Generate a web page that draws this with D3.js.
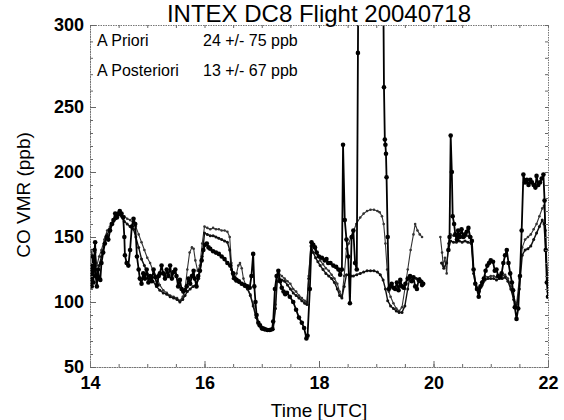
<!DOCTYPE html>
<html>
<head>
<meta charset="utf-8">
<script src="https://cdn.jsdelivr.net/npm/d3@7"></script>
<style>
  body { margin: 0; background: #fff; }
  svg { font-family: "Liberation Sans", Arial, sans-serif; }
</style>
</head>
<body>
<svg id="chart" width="564" height="420" viewBox="0 0 564 420"></svg>
<script>
// time [UTC hours], CO VMR [ppb]; null = no data
const obs = [
  [14.00,118],[14.02,128],[14.03,112],[14.05,135],[14.06,115],[14.08,140],[14.09,146],[14.10,120],
  [14.12,112],[14.14,125],[14.16,118],[14.18,117],[14.20,130],[14.23,138],[14.26,145],[14.29,150],
  [14.32,148],[14.35,155],[14.38,160],[14.41,163],[14.44,168],[14.47,165],[14.50,168],[14.52,170],
  [14.55,168],[14.58,165],[14.60,150],[14.61,136],[14.64,130],[14.67,128],[14.70,140],[14.73,158],
  [14.76,164],[14.79,160],[14.82,135],[14.85,125],[14.87,118],[14.90,114],[14.93,122],[14.96,118],
  [14.99,125],[15.02,115],[15.05,120],[15.08,116],[15.11,125],[15.14,119],[15.17,113],[15.20,120],
  [15.22,122],[15.25,128],[15.28,122],[15.31,118],[15.34,125],[15.37,120],[15.40,128],[15.43,118],
  [15.46,123],[15.49,125],[15.51,120],[15.54,112],[15.57,117],[15.60,110],[15.63,108],[15.66,109],
  [15.69,112],[15.72,118],[15.75,114],[15.78,120],[15.81,124],[15.83,118],[15.86,112],[15.89,120],
  [15.92,124],[15.95,132],[15.98,140],[16.01,144],[16.04,145],[16.07,142],[16.10,141],[16.15,139],
  [16.20,138],[16.25,137],[16.30,135],[16.35,133],[16.40,130],[16.45,128],[16.50,122],[16.53,118],
  [16.56,117],[16.60,116],[16.65,114],[16.70,113],[16.75,112],[16.79,111],[16.82,120],[16.85,137],
  [16.87,112],[16.89,100],[16.91,90],[16.94,84],[16.97,82],[17.00,80],[17.03,79.5],[17.06,79],
  [17.10,78.5],[17.14,78.5],[17.18,79],[17.20,85],[17.23,110],[17.26,120],[17.29,124],[17.32,116],
  [17.35,111],[17.38,108],[17.41,106],[17.44,107],[17.49,104],[17.55,100],[17.60,94],[17.65,88],
  [17.70,84],[17.74,80],[17.78,72],[17.80,74],[17.84,110],[17.87,146],[17.90,144],[17.93,142],
  [17.96,138],[18.00,135],[18.05,134],[18.10,132],[18.13,133],[18.16,130],[18.20,130],[18.25,128],
  [18.30,127],[18.34,125],[18.37,121],[18.40,125],[18.42,221],[18.45,163],[18.48,148],[18.51,135],
  [18.54,99],[18.57,150],[18.60,155],[18.63,130],[18.66,125],[18.68,283],[18.70,420],[19.10,440],
  [19.135,262],[19.15,225],[19.16,221],[19.17,214],[19.18,196],[19.20,150],[19.22,110],[19.24,112],
  [19.27,114],[19.30,111],[19.33,110],[19.36,115],[19.39,109],[19.42,117],[19.45,112],[19.48,111],
  [19.51,114],[19.55,118],[19.59,120],[19.62,116],[19.65,119],[19.68,112],[19.71,110],[19.74,117],
  [19.77,116],[19.80,113],[19.82,114],[19.95,null],
  [20.26,140],[20.28,150],[20.30,228],[20.32,200],[20.335,166],[20.36,160],[20.38,152],[20.41,148],
  [20.43,155],[20.46,150],[20.49,156],[20.52,150],[20.55,152],[20.58,154],[20.61,157],[20.64,150],
  [20.67,147],[20.70,125],[20.73,114],[20.76,110],[20.79,104],[20.82,112],[20.85,115],[20.88,118],
  [20.91,124],[20.94,128],[20.97,130],[21.00,132],[21.04,131],[21.07,124],[21.10,125],[21.13,120],
  [21.16,119],[21.19,122],[21.22,130],[21.25,136],[21.28,140],[21.31,130],[21.34,122],[21.37,115],
  [21.39,109],[21.42,96],[21.45,87],[21.48,95],[21.51,120],[21.54,155],[21.57,198],[21.60,192],
  [21.63,194],[21.66,190],[21.69,194],[21.72,192],[21.75,190],[21.78,188],[21.80,197],[21.83,190],
  [21.86,192],[21.89,195],[21.92,198],[21.94,178],[21.96,140],[21.98,115],[22.00,104]
];

const aPriori = [
  [14.00,125],[14.03,140],[14.06,130],[14.09,138],[14.12,128],[14.16,135],[14.20,140],[14.25,148],
  [14.30,155],[14.35,158],[14.40,162],[14.45,166],[14.50,169],[14.55,168],[14.60,166],[14.65,164],
  [14.70,163],[14.76,161],[14.80,158],[14.85,152],[14.90,146],[14.95,140],[15.00,134],[15.05,130],
  [15.10,124],[15.16,120],[15.22,113],[15.28,109],[15.34,107],[15.40,105],[15.46,104],[15.52,103],
  [15.57,101],[15.62,104],[15.66,110],[15.70,125],[15.74,138],[15.78,142],[15.81,141],[15.84,132],
  [15.88,124],[15.92,128],[15.96,145],[16.00,158],[16.05,157],[16.10,156],[16.15,157],[16.20,156],
  [16.25,156],[16.30,155],[16.35,155],[16.40,154],[16.44,150],[16.47,130],[16.50,120],[16.53,118],
  [16.56,122],[16.59,128],[16.62,130],[16.65,126],[16.68,118],[16.72,113],[16.76,110],[16.80,106],
  [16.85,98],[16.90,90],[16.95,83],[17.00,80],[17.05,79],[17.10,79],[17.15,79],[17.20,80],
  [17.24,98],[17.27,120],[17.30,122],[17.35,120],[17.40,118],[17.45,116],[17.50,114],[17.55,110],
  [17.60,108],[17.65,105],[17.70,103],[17.75,101],[17.79,100],[17.82,120],[17.86,146],[17.90,142],
  [17.94,140],[17.98,136],[18.02,132],[18.07,129],[18.12,126],[18.17,124],[18.22,121],[18.27,118],
  [18.32,114],[18.36,108],[18.40,104],[18.44,120],[18.48,141],[18.52,145],[18.56,150],[18.60,154],
  [18.65,160],[18.72,165],[18.78,168],[18.84,170],[18.90,171],[18.96,171],[19.02,170],[19.06,169],
  [19.10,166],[19.13,160],[19.16,145],[19.19,125],[19.22,108],[19.25,104],[19.30,99],[19.35,95],
  [19.40,93],[19.45,96],[19.50,110],[19.55,125],[19.60,140],[19.65,152],[19.68,160],[19.72,155],
  [19.76,152],[19.80,150],[19.95,null],
  [20.12,150],[20.15,138],[20.17,128],[20.20,134],[20.23,122],[20.26,145],[20.30,152],[20.35,151],
  [20.40,150],[20.45,151],[20.50,151],[20.55,150],[20.60,151],[20.66,150],[20.70,125],[20.75,112],
  [20.80,110],[20.85,116],[20.90,120],[20.95,119],[21.00,120],[21.05,120],[21.10,119],[21.15,119],
  [21.20,120],[21.25,121],[21.30,118],[21.35,112],[21.40,104],[21.45,98],[21.50,118],[21.55,142],
  [21.60,148],[21.65,150],[21.70,152],[21.75,156],[21.80,160],[21.85,166],[21.90,172],[21.93,174],
  [21.96,155],[22.00,104]
];

const aPosteriori = [
  [14.00,115],[14.03,125],[14.06,120],[14.09,130],[14.12,118],[14.16,128],[14.20,135],[14.25,145],
  [14.30,152],[14.35,156],[14.40,160],[14.45,164],[14.50,167],[14.55,166],[14.60,162],[14.65,160],
  [14.70,158],[14.76,156],[14.80,150],[14.85,142],[14.90,133],[14.95,128],[15.00,122],[15.05,118],
  [15.10,116],[15.16,112],[15.22,109],[15.28,107],[15.34,106],[15.40,104],[15.46,103],[15.52,102],
  [15.57,100],[15.62,102],[15.66,105],[15.70,108],[15.75,110],[15.80,112],[15.85,113],[15.90,118],
  [15.96,135],[16.00,153],[16.05,152],[16.10,151],[16.15,151],[16.20,150],[16.25,149],[16.30,148],
  [16.35,147],[16.40,146],[16.44,140],[16.47,125],[16.50,118],[16.55,116],[16.60,115],[16.65,114],
  [16.70,112],[16.75,110],[16.80,105],[16.85,97],[16.90,88],[16.95,82],[17.00,79],[17.05,78.5],
  [17.10,78],[17.15,78],[17.20,79],[17.24,95],[17.27,116],[17.30,118],[17.35,117],[17.40,116],
  [17.45,113],[17.50,110],[17.55,107],[17.60,105],[17.65,103],[17.70,101],[17.75,99],[17.79,98],
  [17.82,118],[17.86,143],[17.90,138],[17.94,134],[17.98,131],[18.02,128],[18.07,125],[18.12,122],
  [18.17,120],[18.22,118],[18.27,115],[18.32,110],[18.36,105],[18.40,103],[18.44,112],[18.48,121],
  [18.52,121],[18.56,120],[18.60,120],[18.66,121],[18.72,122],[18.78,123],[18.84,124],[18.90,124],
  [18.96,124],[19.02,123],[19.07,121],[19.12,117],[19.16,110],[19.20,101],[19.25,97],[19.30,95],
  [19.35,93],[19.40,92],[19.45,92],[19.50,97],[19.55,110],[19.59,120],[19.64,119],[19.70,118],
  [19.76,118],[19.80,116],[19.95,null],
  [20.14,130],[20.18,126],[20.23,130],[20.26,140],[20.30,147],[20.35,146],[20.40,146],[20.45,147],
  [20.50,146],[20.55,147],[20.60,146],[20.66,145],[20.70,122],[20.75,110],[20.80,108],[20.85,113],
  [20.90,117],[20.95,118],[21.00,118],[21.05,118],[21.10,117],[21.15,118],[21.20,118],[21.25,119],
  [21.30,116],[21.35,110],[21.40,102],[21.45,96],[21.50,110],[21.55,136],[21.60,140],[21.65,141],
  [21.70,143],[21.75,148],[21.80,153],[21.85,158],[21.90,163],[21.93,160],[21.96,140],[22.00,108]
];

const xTicks = [14, 16, 18, 20, 22];
const yTicks = [50, 100, 150, 200, 250, 300];
const legendNames = ["A Priori", "A Posteriori"];
const legendStats = ["24 +/- 75 ppb", "13 +/- 67 ppb"];

const svg = d3.select("#chart");
const mLeft = 90, mRight = 548, mTop = 25, mBottom = 367;

let x = d3.scaleLinear().domain([14, 22]).range([mLeft, mRight]);
// the scanned figure's upper band is stretched, so the scale bends at 250
let y = d3.scaleLinear().domain([50, 250, 300]).range([mBottom, 107, mTop]);

svg.append("clipPath").attr("id", "clip")
  .append("rect").attr("x", mLeft).attr("y", mTop)
  .attr("width", mRight - mLeft).attr("height", mBottom - mTop);

let plot = svg.append("g").attr("clip-path", "url(#clip)");

let line = d3.line()
  .defined(d => d[1] !== null)
  .x(d => x(d[0]))
  .y(d => y(d[1]));

function drawSeries(data, stroke, width, dash, r) {
  plot.append("path")
    .datum(data)
    .attr("d", line)
    .attr("fill", "none")
    .attr("stroke", stroke)
    .attr("stroke-width", width)
    .attr("stroke-dasharray", dash)
    .attr("stroke-linejoin", "round");
  plot.append("g")
    .selectAll("circle")
    .data(data.filter(d => d[1] !== null))
    .enter()
    .append("circle")
    .attr("cx", d => x(d[0]))
    .attr("cy", d => y(d[1]))
    .attr("r", r)
    .attr("fill", stroke);
}

drawSeries(aPriori, "#333", 1.1, null, 1.3);
drawSeries(aPosteriori, "#111", 1.4, null, 1.5);
drawSeries(obs, "#000", 1.8, null, 2.3);

// axes: ticks on all four sides pointing inward, IDL style
function minorRange(a, b, step) { return d3.range(a, b + step / 2, step); }
const xMinor = minorRange(14, 22, 0.5);
const yMinor = minorRange(50, 300, 10);

function styleAxis(g) {
  g.select(".domain").attr("stroke", "#777").attr("stroke-dasharray", "1.5,1");
  g.selectAll(".tick line").attr("stroke", "#666");
}

svg.append("g").attr("transform", `translate(0,${mBottom})`)
  .call(d3.axisBottom(x).tickValues(xMinor).tickSize(-3).tickFormat(""))
  .call(styleAxis);
svg.append("g").attr("transform", `translate(0,${mBottom})`)
  .call(d3.axisBottom(x).tickValues(xTicks).tickSize(-6).tickPadding(9).tickFormat(d3.format("d")))
  .call(styleAxis)
  .call(g => g.selectAll("text").attr("font-size", 18).attr("font-weight", "bold").attr("fill", "#000"));
svg.append("g").attr("transform", `translate(0,${mTop})`)
  .call(d3.axisTop(x).tickValues(xMinor).tickSize(-3).tickFormat(""))
  .call(styleAxis);

svg.append("g").attr("transform", `translate(${mLeft},0)`)
  .call(d3.axisLeft(y).tickValues(yMinor).tickSize(-3).tickFormat(""))
  .call(styleAxis);
svg.append("g").attr("transform", `translate(${mLeft},0)`)
  .call(d3.axisLeft(y).tickValues(yTicks).tickSize(-6).tickPadding(6).tickFormat(d3.format("d")))
  .call(styleAxis)
  .call(g => g.selectAll("text").attr("font-size", 18).attr("font-weight", "bold").attr("fill", "#000"));
svg.append("g").attr("transform", `translate(${mRight},0)`)
  .call(d3.axisRight(y).tickValues(yMinor).tickSize(-3).tickFormat(""))
  .call(styleAxis);

// titles
svg.append("text")
  .attr("x", (mLeft + mRight) / 2).attr("y", 22)
  .attr("text-anchor", "middle")
  .attr("font-size", 24)
  .text("INTEX DC8 Flight 20040718");

svg.append("text")
  .attr("x", (mLeft + mRight) / 2).attr("y", 417)
  .attr("text-anchor", "middle")
  .attr("font-size", 19)
  .text("Time [UTC]");

svg.append("text")
  .attr("transform", "translate(30,195) rotate(-90)")
  .attr("text-anchor", "middle")
  .attr("font-size", 19)
  .text("CO VMR (ppb)");

// bias legend
let legend = svg.append("g").attr("font-size", 16);
legendNames.forEach(function(name, i) {
  legend.append("text").attr("x", 97).attr("y", 46 + i * 30).text(name);
  legend.append("text").attr("x", 203).attr("y", 46 + i * 30).text(legendStats[i]);
});
</script>
</body>
</html>
